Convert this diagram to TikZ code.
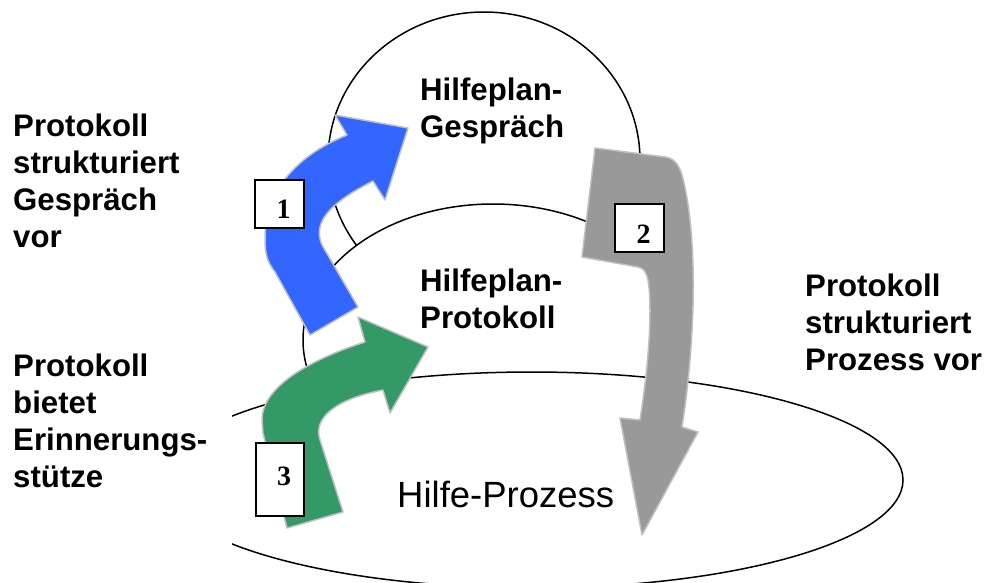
\documentclass[tikz,border=0pt]{standalone}
\usepackage{fontspec}
\setmainfont{Liberation Sans}
\newfontfamily\digitfont{Liberation Serif}
\definecolor{arrowblue}{HTML}{3366FF}
\definecolor{arrowgreen}{HTML}{339966}
\definecolor{arrowgray}{HTML}{999999}
\definecolor{arrowrim}{HTML}{C0C0C0}
\begin{document}
\begin{tikzpicture}[x=1pt,y=-1pt,
  outline/.style={line width=1.5pt, fill=white},
  bigarrow/.style={draw=arrowrim, line width=1.5pt, line join=round},
  numbox/.style={draw, line width=1.8pt, fill=white, inner sep=0pt,
    font=\digitfont\bfseries\fontsize{28}{28}\selectfont},
  % multi-line captions: the base anchor sits on the last line
  captext/.style={anchor=base west, inner sep=0pt, align=left,
    font=\bfseries\fontsize{31.2}{36.7}\selectfont},
]
\useasboundingbox (0,0) rectangle (986,582);

% the three stacked fields
\draw[outline] (484,160) ellipse [x radius=156pt, y radius=148pt];
\draw[outline] (493,340) ellipse [x radius=190pt, y radius=136pt];
\begin{scope}
  \clip (232,0) rectangle (986,582);
  \draw[outline] (531.5,480) ellipse [x radius=371.5pt, y radius=108pt];
\end{scope}

% field captions
\node[captext] (gespraech) at (420,137) {Hilfeplan-\\Gespräch};
\node[captext] (protokoll) at (420,328.5) {Hilfeplan-\\Protokoll};
\node[anchor=base west, inner sep=0pt, font=\fontsize{36.5}{40}\selectfont]
  (prozess) at (397,507) {Hilfe-Prozess};

% side notes
\node[captext] (vorgespraech) at (13,247) {Protokoll\\strukturiert\\Gespräch\\vor};
\node[captext] (erinnerung) at (13,487) {Protokoll\\bietet\\Erinnerungs-\\stütze};
\node[captext] (vorprozess) at (805,370) {Protokoll\\strukturiert\\Prozess vor};

% arrow 1: protocol -> conversation
\draw[bigarrow, fill=arrowblue]
  (358,307) -- (322,245) .. controls (312,222) and (330,203) .. (373,181)
  -- (385,200) -- (408,128) -- (335,115) -- (347,135)
  .. controls (305,152) and (264,185) .. (265,240)
  .. controls (265,255) and (268,263) .. (275,272) -- (310,335) -- cycle;

% arrow 3: process -> protocol
\draw[bigarrow, fill=arrowgreen]
  (343,512) -- (320,440) .. controls (312,416) and (340,398) .. (383,390)
  -- (390,413) -- (428,347) -- (358,317) -- (365,342)
  .. controls (315,358) and (262,385) .. (262,420)
  -- (263,433) -- (287,528) -- cycle;

% arrow 2: conversation -> process
\draw[bigarrow, fill=arrowgray]
  (595,148) -- (665,157) .. controls (674,158) and (679,165) .. (682,175)
  .. controls (697,230) and (697,330) .. (682,427)
  -- (698,432) -- (642,535) -- (620,418) -- (640,420)
  .. controls (648,370) and (653,310) .. (648,280)
  .. controls (646,271) and (643,268) .. (638,267)
  -- (582,257) -- cycle;

% numbered markers
\node[numbox, minimum width=49pt, text height=38pt, text depth=10pt]
  (n1) at (279.5,204) {\hspace*{8pt}1};
\node[numbox, minimum width=49pt, text height=39pt, text depth=9pt]
  (n2) at (639.5,228) {\hspace*{8pt}2};
\node[numbox, minimum width=48pt, text height=42pt, text depth=31pt]
  (n3) at (280,479.5) {\hspace*{8pt}3};
\end{tikzpicture}
\end{document}
